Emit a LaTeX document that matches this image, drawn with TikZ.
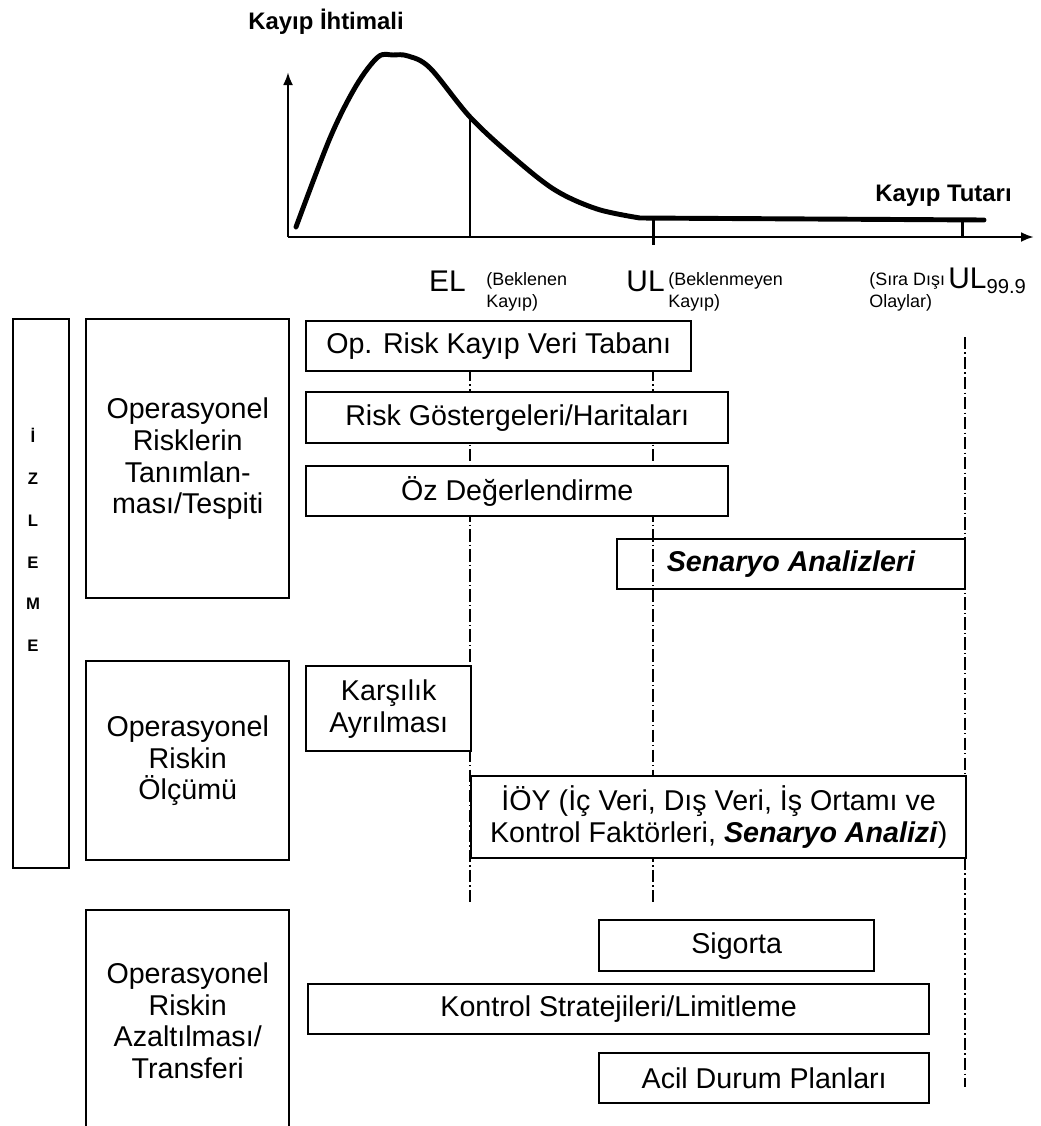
\documentclass[tikz,border=0pt]{standalone}
\usepackage{fontspec}
\setmainfont{Liberation Sans}
\usepackage{xcolor}
\usetikzlibrary{arrows.meta}
\usetikzlibrary{calc,positioning}
\tikzset{%
  >={Latex[width=2mm,length=2.6mm]},
  % Specifications for style of nodes:
  base/.style = {rectangle, draw=black, line width=1.4pt,
    inner sep=0pt, align=center,
    font=\fontsize{16.3}{18.1}\selectfont},
  stage/.style = {base, fill=white, anchor=north west},
  bar/.style = {base, fill=white, anchor=north west, minimum height=1cm},
  openbar/.style = {base, anchor=north west, minimum height=1cm},
  axisText/.style = {font=\bfseries\fontsize{13.6}{16}\selectfont, inner sep=0pt},
  limitText/.style = {font=\fontsize{17}{20}\selectfont, inner sep=0pt},
  noteText/.style = {font=\fontsize{10.2}{12.5}\selectfont, align=left, inner sep=0pt},
  refLine/.style = {line width=0.9pt, dash pattern=on 7pt off 1.8pt on 0.8pt off 1.8pt},
}

\begin{document}
\begin{tikzpicture}[x=0.02cm, y=-0.02cm]
  \useasboundingbox (0,0) rectangle (1041,1126);
  % Loss distribution (axes, curve, limits)
  \coordinate (O) at (288,237);
  \coordinate (Ytop) at (288,72);
  \coordinate (Xend) at (1034,237);
  \coordinate (ELtop) at (470,117);
  \draw[->, line width=1.7pt] (O) -- (Ytop);
  \draw[->, line width=1.7pt] (O) -- (Xend);
  \draw[line width=2.8pt, line cap=round] plot[smooth, tension=0.55] coordinates {(296,227) (330,138) (356,86) (378,57) (393,55) (408,56) (430,68) (470,117) (513,157) (555,190) (597,209) (640,218)} -- (984,220);
  \draw[line width=1.7pt] (ELtop) -- (ELtop |- O);
  \draw[line width=1.7pt] (653,219) -- (653,245);
  \draw[line width=1.7pt] (962,220) -- (962,237);
  \node[axisText, anchor=west] (Prob) at (248,22) {Kayıp İhtimali};
  \node[axisText, anchor=east] (Amount) at (1012,196) {Kayıp Tutarı};
  \node[limitText, anchor=east] (EL) at (466,281) {EL};
  \node[noteText, anchor=west] (ELdesc) at (486,292) {(Beklenen\\Kayıp)};
  \node[limitText, anchor=east] (UL) at (665,281) {UL};
  \node[noteText, anchor=west] (ULdesc) at (668,292) {(Beklenmeyen\\Kayıp)};
  \node[noteText, anchor=west] (EXdesc) at (869,292) {(Sıra Dışı\\Olaylar)};
  \node[limitText, anchor=west] (ULext) at (948,281) {UL\raisebox{-0.3ex}{\fontsize{11.5}{12}\selectfont 99.9}};
  % Reference lines
  \draw[refLine] (470,369) -- (470,905);
  \draw[refLine] (653,369) -- (653,905);
  \draw[refLine] (965,337) -- (965,1087);
  % Left column
  \node[stage, minimum width=1.12cm, minimum height=10.98cm] (Izl) at (12,318) {};
  \node[font=\bfseries\fontsize{9.5}{23.8}\selectfont, align=center] (IzlText) at (33,540) {İ\\Z\\L\\E\\M\\E};
  \node[stage, minimum width=4.06cm, minimum height=5.58cm] (Tan) at (85,318) {Operasyonel\\Risklerin\\Tanımlan-\\ması/Tespiti};
  \node[stage, minimum width=4.06cm, minimum height=3.98cm] (Olc) at (85,660) {Operasyonel\\Riskin\\Ölçümü};
  \node[stage, minimum width=4.06cm, minimum height=4.42cm] (Azl) at (85,909) {Operasyonel\\Riskin\\Azaltılması/\\Transferi};
  % Tools
  \node[bar, minimum width=7.7cm] (Db) at (305,320) {Op. Risk Kayıp Veri Tabanı};
  \node[bar, minimum width=8.44cm, minimum height=1.02cm] (Kri) at (305,391) {Risk Göstergeleri/Haritaları};
  \node[bar, minimum width=8.44cm] (Oz) at (305,465) {Öz Değerlendirme};
  \node[openbar, minimum width=6.96cm] (Sen) at (616,538) {\textbf{\textit{Senaryo Analizleri}}};
  \node[bar, minimum width=3.3cm, minimum height=1.7cm] (Kar) at (305,665) {Karşılık\\Ayrılması};
  \node[bar, minimum width=9.9cm, minimum height=1.64cm] (Ioy) at (470,775) {İÖY (İç Veri, Dış Veri, İş Ortamı ve\\Kontrol Faktörleri, \textbf{\textit{Senaryo Analizi}})};
  \node[bar, minimum width=5.5cm, minimum height=1.02cm] (Sig) at (598,919) {Sigorta};
  \node[bar, minimum width=12.42cm] (Kon) at (307,983) {Kontrol Stratejileri/Limitleme};
  \node[bar, minimum width=6.6cm] (Acil) at (598,1052) {Acil Durum Planları};
\end{tikzpicture}
\end{document}
